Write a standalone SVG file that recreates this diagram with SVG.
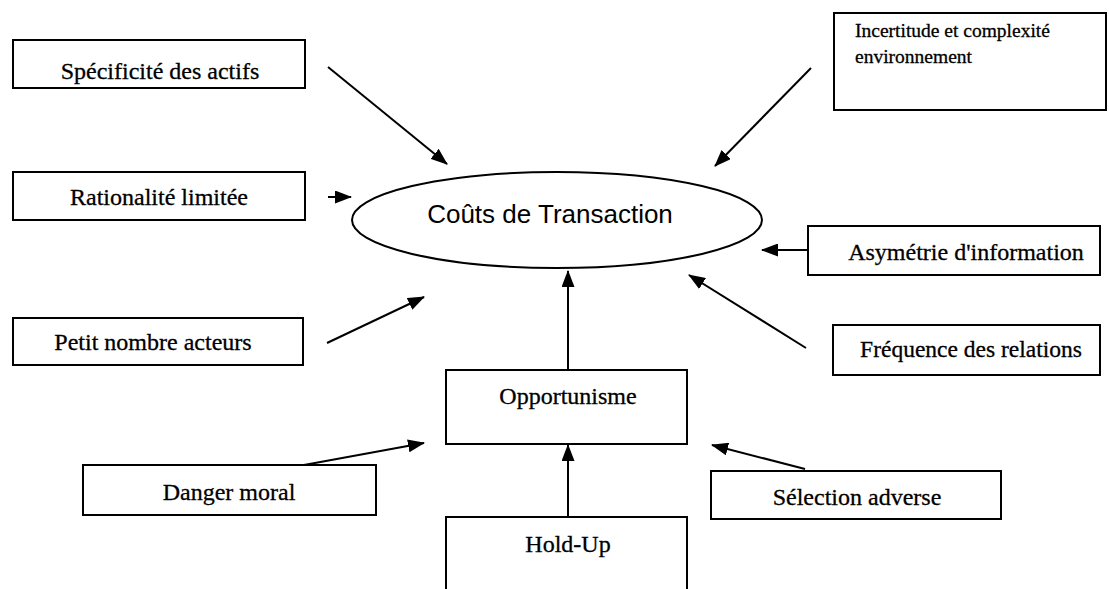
<svg xmlns="http://www.w3.org/2000/svg" width="1109" height="589" viewBox="0 0 1109 589">
<style>
.box{fill:#fff;stroke:#000;stroke-width:2}
.lbl{font-family:"Liberation Serif","Times New Roman",serif;font-size:24px;fill:#000;text-anchor:middle;stroke:#000;stroke-width:0.3}
.sm{font-family:"Liberation Serif","Times New Roman",serif;font-size:19.5px;fill:#000;stroke:#000;stroke-width:0.3}
.title{font-family:"Liberation Sans",Arial,sans-serif;font-size:26px;fill:#000;text-anchor:middle}
.arr{stroke:#000;stroke-width:2;fill:none;marker-end:url(#ah)}
</style>
<defs>
<marker id="ah" markerUnits="userSpaceOnUse" markerWidth="17" markerHeight="13" refX="16" refY="6.5" orient="auto">
<path d="M0,0 L17,6.5 L0,13 Z" fill="#000"/>
</marker>
</defs>
<rect width="1109" height="589" fill="#fff"/>
<g id="connectors">
<line class="arr" x1="328" y1="67" x2="447" y2="164"/>
<line class="arr" x1="328" y1="197" x2="351" y2="197"/>
<line class="arr" x1="327" y1="343" x2="424" y2="297"/>
<line class="arr" x1="811" y1="68" x2="715" y2="166"/>
<line class="arr" x1="808" y1="250" x2="762" y2="250"/>
<line class="arr" x1="806" y1="348" x2="689" y2="275"/>
<line class="arr" x1="568" y1="370" x2="568" y2="271"/>
<line class="arr" x1="304" y1="465" x2="424" y2="443"/>
<line class="arr" x1="805" y1="469" x2="712" y2="445"/>
<line class="arr" x1="568" y1="517" x2="568" y2="445"/>
</g>
<g id="couts">
<ellipse cx="557" cy="220" rx="205" ry="48" fill="none" stroke="#000" stroke-width="2"/>
<text class="title" x="550" y="223">Coûts de Transaction</text>
</g>
<g id="specificite">
<rect class="box" x="13" y="40" width="292" height="48"/>
<text class="lbl" x="160" y="79">Spécificité des actifs</text>
</g>
<g id="rationalite">
<rect class="box" x="13" y="172" width="292" height="48"/>
<text class="lbl" x="159" y="205">Rationalité limitée</text>
</g>
<g id="petit-nombre">
<rect class="box" x="13" y="318" width="290" height="47"/>
<text class="lbl" x="153" y="350">Petit nombre acteurs</text>
</g>
<g id="incertitude">
<rect class="box" x="834" y="13" width="272" height="97"/>
<text class="sm" x="855" y="37">Incertitude et complexité</text>
<text class="sm" x="855" y="63">environnement</text>
</g>
<g id="asymetrie">
<rect class="box" x="808" y="226" width="292" height="49"/>
<text class="lbl" x="966" y="260">Asymétrie d'information</text>
</g>
<g id="frequence">
<rect class="box" x="833" y="325" width="267" height="50"/>
<text class="lbl" x="971" y="357" style="font-size:23.5px">Fréquence des relations</text>
</g>
<g id="opportunisme">
<rect class="box" x="446" y="370" width="241" height="74"/>
<text class="lbl" x="568" y="404">Opportunisme</text>
</g>
<g id="danger-moral">
<rect class="box" x="83" y="465" width="293" height="50"/>
<text class="lbl" x="229" y="500">Danger moral</text>
</g>
<g id="selection-adverse">
<rect class="box" x="711" y="471" width="290" height="48"/>
<text class="lbl" x="857" y="505">Sélection adverse</text>
</g>
<g id="hold-up">
<rect class="box" x="446" y="517" width="241" height="80"/>
<text class="lbl" x="568" y="552">Hold-Up</text>
</g>
</svg>
